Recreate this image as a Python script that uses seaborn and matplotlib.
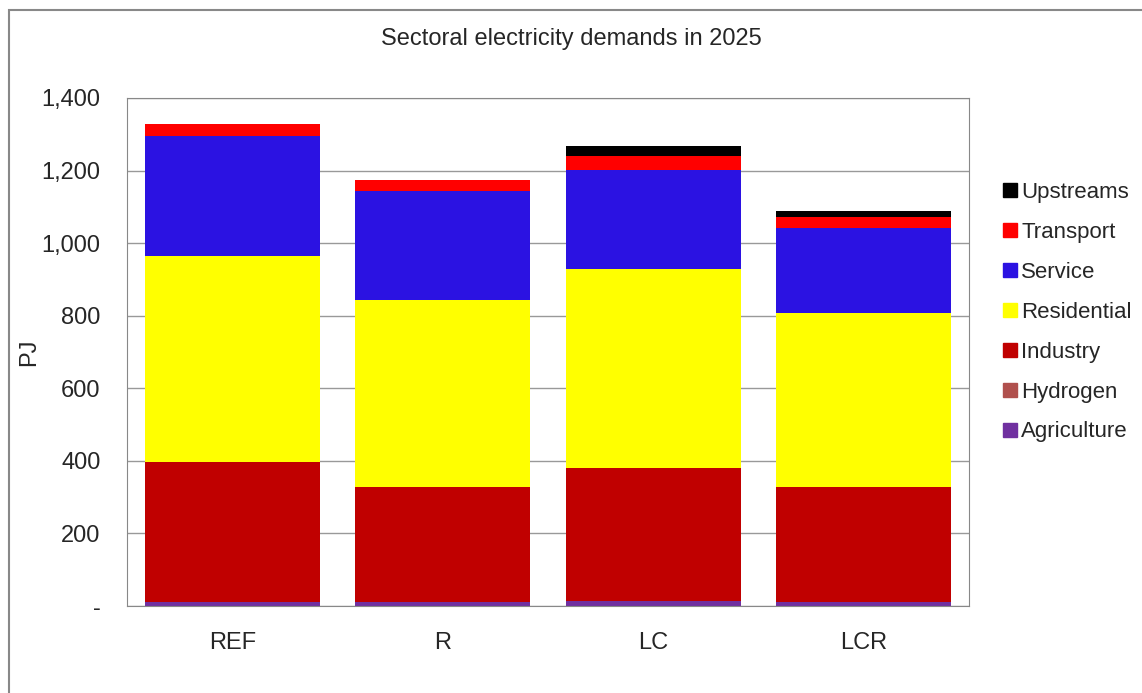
import numpy as np
import pandas as pd
import matplotlib
matplotlib.use("Agg")
import matplotlib.pyplot as plt
import seaborn as sns
from matplotlib.lines import Line2D
from matplotlib.patches import Rectangle
from matplotlib.ticker import FuncFormatter

sns.set_style("white")
plt.rcParams['font.family'] = ['Liberation Sans', 'DejaVu Sans']

# ========== data (PJ) ==========
scenarios = ["REF", "R", "LC", "LCR"]
agriculture = [11, 11, 14, 11]
hydrogen = [0, 0, 0, 0]
industry = [386, 317, 366, 317]
residential = [568, 515, 549, 479]
service = [330, 301, 273, 235]
transport = [33, 30, 38, 30]
upstreams = [0, 0, 28, 17]

sectors = ["Agriculture", "Hydrogen", "Industry", "Residential", "Service", "Transport", "Upstreams"]
colors = ["#7030A0", "#B0504D", "#C00000", "#FFFF00", "#2B12E2", "#FF0000", "#000000"]

df = pd.DataFrame({"scenario": scenarios, "Agriculture": agriculture, "Hydrogen": hydrogen,
                   "Industry": industry, "Residential": residential, "Service": service,
                   "Transport": transport, "Upstreams": upstreams})
cum = df[sectors].cumsum(axis=1)

fig = plt.figure(figsize=(11.42, 6.93), dpi=100)
ax = fig.add_axes([0.1112, 0.1255, 0.8485 - 0.1112, 0.8586 - 0.1255])

# stacked bars: draw cumulative totals from the top layer down
for sec, col in zip(sectors[::-1], colors[::-1]):
    sns.barplot(x=df["scenario"], y=cum[sec], color=col, width=0.83,
                saturation=1, ax=ax, zorder=2, edgecolor="none")

fs = 17
ax.set_ylim(0, 1400)
ax.set_xlim(-0.5, 3.5)
ax.set_yticks(np.arange(0, 1401, 200))
ax.yaxis.set_major_formatter(FuncFormatter(lambda v, p: "-" if v == 0 else f"{v:,.0f}"))
ax.grid(axis="y", color="#999999", lw=1, zorder=0)
ax.set_axisbelow(True)
for s in ax.spines.values():
    s.set_color("#888888")
ax.tick_params(axis="y", labelsize=fs, pad=19, length=0)
ax.tick_params(axis="x", labelsize=fs, pad=19, length=0)
ax.set_xlabel("")
ax.set_ylabel("PJ", fontsize=fs, labelpad=1)

fig.text(0.5, 1 - 39 / 693, "Sectoral electricity demands in 2025", ha="center", va="center", fontsize=fs)

handles = [Line2D([], [], marker="s", ls="", markersize=10, color=c) for c in colors[::-1]]
fig.legend(handles, sectors[::-1], loc="upper left", bbox_to_anchor=(0.867, 0.750),
           frameon=False, fontsize=16, handletextpad=0.0, labelspacing=0.85,
           borderaxespad=0, handlelength=1.0)

fig.add_artist(Rectangle((9 / 1142, -0.1), 1.2, 1 - 10 / 693 + 0.1, transform=fig.transFigure,
                         fill=False, edgecolor="#888888", lw=1.5))

fig.savefig("out.png", dpi=100)
